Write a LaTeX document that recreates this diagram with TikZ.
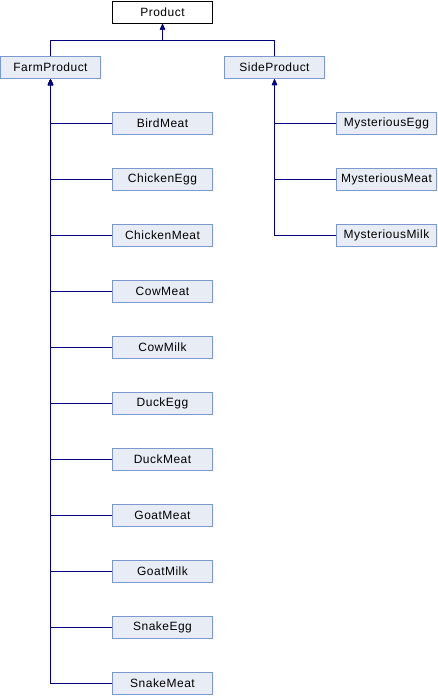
\documentclass[tikz,border=0pt]{standalone}
\usepackage{fontspec}
\setmainfont{Liberation Sans}
\newfontfamily\boxfont[LetterSpace=4]{Liberation Sans}
\usetikzlibrary{arrows.meta}
\definecolor{boxfill}{HTML}{E8ECF5}
\definecolor{boxline}{HTML}{7B98CF}
\definecolor{edgecol}{HTML}{000080}
\begin{document}
\begin{tikzpicture}[x=1pt,y=-1pt,
  cls/.style={draw=boxline,fill=boxfill,line width=1pt,minimum width=100pt,minimum height=22pt,inner sep=0pt,font=\boxfont\fontsize{12}{14}\selectfont},
  rootcls/.style={cls,draw=black,fill=white},
  edge/.style={draw=edgecol,line width=1pt,-{Triangle[width=5pt,length=6pt]}}]
\useasboundingbox (0,0) rectangle (438,696);
\node[rootcls] (product) at (162.5,12) {Product};
\node[cls] (farm) at (50.5,67.5) {FarmProduct};
\node[cls] (side) at (274.5,67.5) {SideProduct};
\coordinate (j) at (162.5,40);
\foreach \n/\t [count=\i] in {bird/BirdMeat,chickenegg/ChickenEgg,chickenmeat/ChickenMeat,cowmeat/CowMeat,cowmilk/CowMilk,duckegg/DuckEgg,duckmeat/DuckMeat,goatmeat/GoatMeat,goatmilk/GoatMilk,snakeegg/SnakeEgg,snakemeat/SnakeMeat}{
  \node[cls] (\n) at (162.5,67.5+56*\i) {\t};
  \draw[edge] (\n.west) -| (farm.south);
}
\foreach \n/\t [count=\i] in {myegg/MysteriousEgg,mymeat/MysteriousMeat,mymilk/MysteriousMilk}{
  \node[cls] (\n) at (386.5,67.5+56*\i) {\t};
  \draw[edge] (\n.west) -| (side.south);
}
\draw[edge] (farm.north) |- (j) -| (product.south);
\draw[edge] (side.north) |- (j) -| (product.south);
\end{tikzpicture}
\end{document}
